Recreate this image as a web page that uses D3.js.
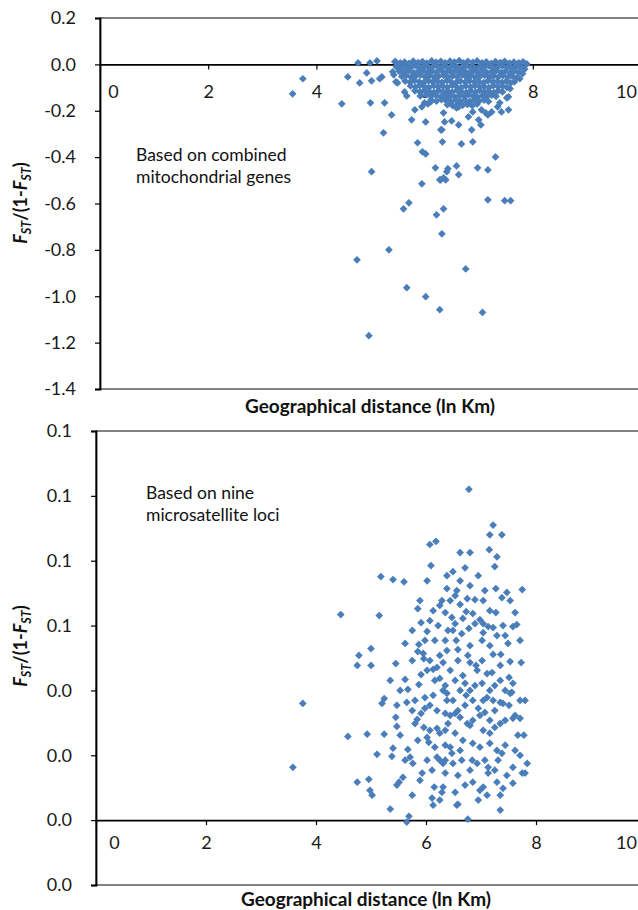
<!DOCTYPE html>
<html>
<head>
<meta charset="utf-8">
<script src="https://cdn.jsdelivr.net/npm/d3@7.9.0/dist/d3.min.js"></script>
<style>
  body { margin: 0; background: #fff; }
  svg { display: block; font-family: Lato, "Open Sans", sans-serif; }
</style>
</head>
<body>
<svg id="chart" width="638" height="910"></svg>
<script>
// ---- data: [ln distance (km), Fst/(1-Fst)] ----
const mitoPoints = [
  // scattered
  [3.56,-0.127],[3.75,-0.062],[4.47,-0.170],[4.58,-0.054],[4.77,0.006],[4.80,-0.080],[4.93,-0.037],
  [4.99,0.006],[5.02,-0.071],[5.00,-0.166],[5.02,-0.463],[5.12,0.015],[5.17,-0.062],[5.21,-0.054],
  [5.26,-0.166],[5.24,-0.295],[5.39,-0.218],[5.45,0.011],[5.47,-0.075],[5.48,-0.011],[5.54,-0.024],
  [5.41,-0.032],[5.43,-0.045],[5.50,-0.080],[5.63,-0.119],[5.67,-0.136],[5.82,-0.196],[5.76,-0.239],
  [5.87,-0.338],[5.96,-0.377],[6.02,-0.386],[5.95,-0.515],[6.02,-0.248],[5.95,-0.183],[6.00,-0.166],
  [6.06,-0.170],[6.11,-0.162],[6.20,-0.446],[6.28,-0.498],[6.35,-0.489],[6.41,-0.463],[6.43,-0.450],
  [6.59,-0.438],[6.63,-0.476],[6.33,-0.334],[6.32,-0.282],[6.37,-0.248],[6.35,-0.209],[6.50,-0.244],
  [6.63,-0.261],[6.68,-0.343],[6.87,-0.282],[6.89,-0.334],[6.81,-0.226],[7.00,-0.239],[7.04,-0.261],
  [6.98,-0.446],[7.17,-0.455],[7.31,-0.399],[6.41,-0.144],[6.59,-0.188],[6.63,-0.183],[6.89,-0.205],
  [7.05,-0.196],[7.17,-0.218],[7.24,-0.205],[7.42,-0.205],[7.55,-0.196],[7.39,-0.166],[7.52,-0.144],
  [7.55,-0.140],[6.46,-0.166],[7.13,-0.209],[7.35,-0.183],[6.30,-0.282],
  [5.71,-0.597],[5.61,-0.623],[6.35,-0.623],[6.22,-0.649],[6.32,-0.731],[7.17,-0.584],[7.48,-0.588],
  [7.59,-0.588],[5.34,-0.800],[4.75,-0.843],[6.76,-0.882],[5.67,-0.963],[6.02,-1.002],[6.28,-1.058],
  [7.07,-1.070],[4.97,-1.170],[6.30,-0.498],[6.39,-0.498],
  // dense cluster near zero
  [5.46,0.012],[5.55,0.006],[5.63,0.010],[5.71,0.004],[5.79,0.014],[5.88,0.008],[5.96,0.012],[6.04,0.005],
  [6.13,0.015],[6.21,0.009],[6.30,0.013],[6.38,0.006],[6.47,0.014],[6.55,0.010],[6.64,0.016],[6.72,0.007],
  [6.80,0.013],[6.89,0.009],[6.97,0.015],[7.06,0.006],[7.14,0.011],[7.23,0.004],[7.31,0.012],[7.40,0.008],
  [7.48,0.013],[7.57,0.005],[7.65,0.010],[7.74,0.007],[7.82,0.011],[7.89,0.002],
  [5.50,-0.012],[5.59,-0.008],[5.67,-0.015],[5.76,-0.010],[5.84,-0.006],[5.92,-0.013],[6.00,-0.009],
  [6.09,-0.016],[6.17,-0.007],[6.26,-0.012],[6.34,-0.010],[6.43,-0.015],[6.51,-0.006],[6.60,-0.011],
  [6.68,-0.014],[6.77,-0.008],[6.85,-0.012],[6.93,-0.016],[7.02,-0.009],[7.10,-0.013],[7.19,-0.007],
  [7.27,-0.015],[7.36,-0.010],[7.44,-0.006],[7.53,-0.012],[7.61,-0.016],[7.70,-0.009],[7.78,-0.013],[7.85,-0.020],
  [5.53,-0.030],[5.62,-0.034],[5.71,-0.028],[5.80,-0.036],[5.88,-0.031],[5.97,-0.027],[6.05,-0.035],
  [6.14,-0.030],[6.22,-0.033],[6.31,-0.026],[6.39,-0.036],[6.48,-0.031],[6.56,-0.028],[6.64,-0.034],
  [6.73,-0.030],[6.81,-0.037],[6.90,-0.029],[6.98,-0.033],[7.07,-0.027],[7.15,-0.035],[7.24,-0.031],
  [7.32,-0.028],[7.41,-0.034],[7.49,-0.030],[7.58,-0.036],[7.66,-0.029],[7.74,-0.035],[7.81,-0.040],
  [5.58,-0.052],[5.66,-0.048],[5.75,-0.055],[5.84,-0.050],[5.92,-0.046],[6.01,-0.054],[6.09,-0.049],
  [6.18,-0.056],[6.26,-0.051],[6.35,-0.047],[6.43,-0.055],[6.52,-0.050],[6.60,-0.053],[6.69,-0.046],
  [6.77,-0.054],[6.86,-0.049],[6.94,-0.056],[7.03,-0.051],[7.11,-0.047],[7.20,-0.055],[7.28,-0.050],
  [7.37,-0.053],[7.45,-0.048],[7.54,-0.055],[7.62,-0.051],[7.70,-0.058],[7.76,-0.062],
  [5.64,-0.072],[5.73,-0.077],[5.81,-0.070],[5.90,-0.075],[5.98,-0.079],[6.07,-0.071],[6.15,-0.076],
  [6.24,-0.073],[6.32,-0.078],[6.41,-0.070],[6.49,-0.075],[6.58,-0.079],[6.66,-0.072],[6.75,-0.077],
  [6.83,-0.071],[6.92,-0.076],[7.00,-0.074],[7.09,-0.079],[7.17,-0.071],[7.26,-0.076],[7.34,-0.073],
  [7.43,-0.078],[7.51,-0.072],[7.59,-0.080],[7.66,-0.075],
  [5.74,-0.093],[5.83,-0.098],[5.91,-0.091],[6.00,-0.096],[6.08,-0.100],[6.17,-0.092],[6.25,-0.097],
  [6.34,-0.094],[6.42,-0.099],[6.51,-0.091],[6.59,-0.096],[6.68,-0.100],[6.76,-0.093],[6.85,-0.098],
  [6.93,-0.092],[7.02,-0.097],[7.10,-0.095],[7.19,-0.100],[7.27,-0.092],[7.36,-0.097],[7.44,-0.094],
  [7.52,-0.099],[7.58,-0.105],
  [5.82,-0.114],[5.91,-0.118],[6.00,-0.112],[6.09,-0.117],[6.17,-0.121],[6.26,-0.113],[6.34,-0.118],
  [6.43,-0.115],[6.51,-0.120],[6.60,-0.112],[6.68,-0.117],[6.77,-0.121],[6.85,-0.114],[6.94,-0.119],
  [7.02,-0.113],[7.11,-0.118],[7.19,-0.116],[7.28,-0.121],[7.36,-0.114],[7.44,-0.119],
  [5.92,-0.136],[6.03,-0.132],[6.12,-0.138],[6.21,-0.134],[6.30,-0.140],[6.39,-0.133],[6.47,-0.137],
  [6.56,-0.141],[6.64,-0.134],[6.73,-0.139],[6.81,-0.132],[6.90,-0.137],[6.98,-0.141],[7.07,-0.135],
  [7.15,-0.139],[7.24,-0.133],[7.32,-0.138],
  [6.12,-0.153],[6.22,-0.158],[6.31,-0.152],[6.40,-0.157],[6.49,-0.161],[6.58,-0.154],[6.66,-0.159],
  [6.75,-0.155],[6.84,-0.160],[6.92,-0.153],[7.01,-0.158],[7.10,-0.154],[7.18,-0.160],
  [6.42,-0.174],[6.52,-0.178],[6.61,-0.172],[6.70,-0.177],[6.79,-0.173],[6.88,-0.178],[6.97,-0.171]
];

const microPoints = [
  [6.78,0.102],[7.22,0.091],[7.16,0.088],[7.38,0.088],[6.07,0.085],[6.18,0.086],[6.62,0.0825],[6.80,0.0825],
  [7.15,0.0834],[7.29,0.0812],[7.25,0.0782],[6.09,0.0785],[6.49,0.0766],[5.18,0.0751],[5.40,0.0742],
  [5.60,0.0735],[6.02,0.0738],[4.45,0.0634],[5.15,0.0631],[5.85,0.0652],[5.91,0.0609],[6.02,0.0582],
  [5.62,0.0545],[5.00,0.0529],
  [7.27,0.0714],[7.47,0.0702],[7.75,0.0711],[7.38,0.0686],[6.75,0.0683],[6.89,0.0680],[7.04,0.0677],
  [6.62,0.0665],[7.27,0.0640],[6.73,0.0643],[6.85,0.0637],[6.47,0.0625],[6.67,0.0622],[6.98,0.0618],
  [6.89,0.0606],[7.04,0.0606],[7.13,0.0597],[7.22,0.0594],[7.40,0.0600],[7.58,0.0597],[7.65,0.0603],
  [6.78,0.0591],[6.53,0.0606],[6.49,0.0585],[7.04,0.0578],[6.65,0.0575],[7.29,0.0569],[7.44,0.0569],
  [7.49,0.0545],[6.38,0.0523],[6.58,0.0526],[7.02,0.0554],[7.22,0.0511],[7.36,0.0511],[6.76,0.0508],
  [6.80,0.0486],[6.91,0.0477],[6.93,0.0462],[7.53,0.0489],[7.73,0.0486],[7.51,0.0440],[7.58,0.0422],
  [7.11,0.0452],[7.20,0.0455],[6.71,0.0422],[6.62,0.0400],[6.49,0.0369],[6.85,0.0369],[7.04,0.0369],
  [7.11,0.0378],[7.22,0.0369],[7.35,0.0363],[7.40,0.0360],[7.53,0.0391],[7.56,0.0394],[7.62,0.0323],
  [7.71,0.0314],[7.78,0.0262],[7.67,0.0262],[7.58,0.0314],[7.35,0.0298],[7.25,0.0286],[7.16,0.0268],
  [7.04,0.0277],[6.85,0.0308],[6.75,0.0298],[6.62,0.0317],[6.53,0.0329],[6.40,0.0298],[6.35,0.0277],
  [6.53,0.0268],[6.67,0.0246],[6.85,0.0237],[6.98,0.0225],[7.16,0.0237],[7.29,0.0215],[7.38,0.0206],
  [6.44,0.0225],[6.35,0.0185],[6.47,0.0206],[6.49,0.0175],[6.65,0.0185],[6.84,0.0185],[6.93,0.0175],
  [7.13,0.0163],[7.13,0.0145],[7.31,0.0185],[7.47,0.0138],[7.58,0.0163],[7.58,0.0114],[7.75,0.0145],
  [7.80,0.0145],[7.84,0.0175],[7.29,0.0117],[7.40,0.0098],[7.04,0.0102],[6.85,0.0117],[6.71,0.0108],
  [6.53,0.0086],[6.31,0.0102],[6.98,0.0092],[7.11,0.0077],[6.58,0.0049],[7.35,0.0031],[6.76,0.0003],
  [4.78,0.0508],[4.75,0.0477],[5.00,0.0477],[5.45,0.0483],[5.87,0.0542],[5.85,0.0520],[5.95,0.0514],
  [5.96,0.0498],[6.25,0.0508],[6.20,0.0471],[6.13,0.0465],[6.02,0.0462],[5.91,0.0449],[5.62,0.0434],
  [5.87,0.0418],[5.67,0.0403],[5.24,0.0375],[5.20,0.0360],[5.47,0.0354],[5.65,0.0363],[5.98,0.0378],
  [6.16,0.0431],[6.25,0.0437],[6.31,0.0400],[6.38,0.0391],[6.07,0.0354],[5.98,0.0345],[6.20,0.0338],
  [6.35,0.0329],[5.45,0.0317],[5.47,0.0289],[5.91,0.0329],[5.84,0.0311],[5.80,0.0298],[5.96,0.0286],
  [6.07,0.0277],[6.20,0.0283],[6.02,0.0255],[6.05,0.0240],[6.25,0.0268],[5.85,0.0246],[6.16,0.0225],
  [6.35,0.0231],[4.58,0.0258],[4.93,0.0265],[5.24,0.0265],[5.40,0.0222],[5.67,0.0218],[5.11,0.0203],
  [5.38,0.0197],[5.71,0.0194],[5.76,0.0175],[6.02,0.0185],[6.20,0.0194],[6.31,0.0175],[6.35,0.0145],
  [5.93,0.0145],[4.75,0.0117],[4.96,0.0126],[4.98,0.0092],[5.02,0.0077],[5.47,0.0108],[5.51,0.0117],
  [5.58,0.0132],[6.15,0.0102],[6.29,0.0086],[6.11,0.0068],[6.13,0.0046],[5.35,0.0034],[5.69,0.0012],
  [5.65,-0.0006],[3.76,0.0360],[3.58,0.0163],[6.56,0.0046],
  [6.35,0.0554],[6.40,0.0585],[6.31,0.0486],[6.44,0.0462],[6.53,0.0431],[6.38,0.0369],[6.71,0.0354],
  [6.95,0.0345],[7.07,0.0332],[7.16,0.0400],[7.35,0.0431],[6.80,0.0400],[6.58,0.0492],[7.02,0.0422],
  [7.25,0.0338],[7.44,0.0308],[7.51,0.0354],[7.71,0.0369],[6.07,0.0492],[6.16,0.0554],[6.22,0.0600],
  [6.35,0.0640],[6.44,0.0677],[6.25,0.0662],[6.56,0.0708],[6.38,0.0714],[6.13,0.0646],[5.98,0.0554],
  [5.75,0.0492],[5.80,0.0369],
  [6.29,0.0677],[6.53,0.0692],[6.80,0.0723],[6.95,0.0754],[6.71,0.0778],[7.07,0.0708],[7.53,0.0677],
  [7.62,0.0640],[6.55,0.0554],[6.80,0.0538],[7.16,0.0538],[7.35,0.0477],[7.02,0.0492],[6.67,0.0446],
  [6.89,0.0415],[7.25,0.0415],[7.44,0.0400],[6.35,0.0415],[6.13,0.0385],[6.58,0.0338],[6.80,0.0292],
  [6.98,0.0323],[7.16,0.0308],[7.44,0.0231],[7.62,0.0215],[6.62,0.0215],[6.25,0.0185],[6.11,0.0154],
  [6.58,0.0138],[6.80,0.0154],[7.25,0.0154],[6.25,0.0062],[5.75,0.0077],[5.89,0.0123],[5.62,0.0185],
  [5.53,0.0262],[5.75,0.0338],[5.53,0.0400],[5.35,0.0431],[6.07,0.0615],[5.75,0.0585],[5.89,0.0677],
  [6.38,0.0754],[6.62,0.0738],[7.16,0.0646],[7.71,0.0554],[7.80,0.0369],[7.71,0.0200],[7.35,0.0077],
  [6.95,0.0062],[7.07,0.0185],[6.44,0.0323],[6.73,0.0385]
];

const xTicks = [0, 2, 4, 6, 8, 10];
const mitoYTicks = [0.2, 0, -0.2, -0.4, -0.6, -0.8, -1.0, -1.2, -1.4];
const microYTicks = [-0.02, 0, 0.02, 0.04, 0.06, 0.08, 0.10, 0.12];

const xTitle = 'Geographical distance (ln Km)';
const mitoNote = ['Based on combined', 'mitochondrial genes'];
const microNote = ['Based on nine', 'microsatellite loci'];

const markerColor = '#4A7EBB';
const fmt = v => (Math.round(v * 10) / 10).toFixed(1);

const svg = d3.select('#chart');

function yTitle(g, cx, cy) {
  const t = g.append('text')
    .attr('transform', `translate(${cx},${cy}) rotate(-90)`)
    .attr('text-anchor', 'middle')
    .attr('font-weight', 'bold')
    .attr('font-size', 18)
    .attr('fill', '#111');
  t.append('tspan').attr('font-style', 'italic').text('F');
  t.append('tspan').attr('font-style', 'italic').attr('font-size', 12.5).attr('dy', 4).text('ST');
  t.append('tspan').attr('dy', -4).text('/(1-');
  t.append('tspan').attr('font-style', 'italic').text('F');
  t.append('tspan').attr('font-style', 'italic').attr('font-size', 12.5).attr('dy', 4).text('ST');
  t.append('tspan').attr('dy', -4).text(')');
}

function drawPanel(cfg) {
  const g = svg.append('g');
  const x = d3.scaleLinear().domain([0, 10]).range([cfg.left, cfg.right]);
  const y = d3.scaleLinear().domain(cfg.yDomain).range([cfg.bottom, cfg.top]);

  // plot area border
  g.append('rect')
    .attr('x', cfg.left).attr('y', cfg.top)
    .attr('width', cfg.right - cfg.left).attr('height', cfg.bottom - cfg.top)
    .attr('fill', 'none').attr('stroke', '#404040').attr('stroke-width', 1.3);

  // y axis
  const ya = g.append('g')
    .attr('transform', `translate(${cfg.left},0)`)
    .call(d3.axisLeft(y).tickValues(cfg.yTicks).tickSize(5).tickPadding(cfg.yPad).tickFormat(fmt));
  ya.select('.domain').attr('stroke', '#000').attr('stroke-width', 1.8);
  ya.selectAll('.tick line').attr('stroke', '#000').attr('stroke-width', 1.2);
  ya.selectAll('.tick text')
    .attr('font-family', 'Lato, sans-serif').attr('font-size', 18).attr('fill', '#1a1a1a');

  // x axis, crossing at y = 0
  const xa = g.append('g')
    .attr('transform', `translate(0,${y(0)})`)
    .call(d3.axisBottom(x).tickValues(xTicks).tickSize(5).tickSizeOuter(0));
  xa.select('.domain').attr('stroke', '#000').attr('stroke-width', 1.8);
  xa.selectAll('.tick line').attr('stroke', '#000').attr('stroke-width', 1.2);
  xa.selectAll('.tick text')
    .attr('font-family', 'Lato, sans-serif').attr('font-size', 18).attr('fill', '#1a1a1a')
    .attr('dy', null).attr('y', cfg.xLabelBase)
    .attr('x', d => Math.max(cfg.left + cfg.xLabelMin, Math.min(cfg.xLabelMax, x(d))) - x(d));

  // points
  g.append('g').selectAll('path')
    .data(cfg.points)
    .join('path')
    .attr('d', d3.symbol(d3.symbolSquare, 30))
    .attr('transform', d => `translate(${x(d[0])},${y(d[1])}) rotate(45)`)
    .attr('fill', markerColor);

  // note
  const note = g.append('text')
    .attr('font-size', 17.5).attr('fill', '#111');
  cfg.note.forEach((line, i) => {
    note.append('tspan').attr('x', cfg.noteX).attr('y', cfg.noteY + i * 22).text(line);
  });

  yTitle(g, cfg.yTitleX, cfg.yTitleY);

  g.append('text')
    .attr('x', cfg.xTitleX).attr('y', cfg.xTitleY)
    .attr('text-anchor', 'middle')
    .attr('font-weight', 'bold').attr('font-size', 19).attr('fill', '#111')
    .text(xTitle);
}

drawPanel({
  points: mitoPoints, yDomain: [-1.4, 0.2], yTicks: mitoYTicks,
  left: 100, right: 641, top: 18, bottom: 389, yPad: 19,
  xLabelBase: 33.5, xLabelMin: 13, xLabelMax: 626,
  note: mitoNote, noteX: 136, noteY: 161,
  yTitleX: 27, yTitleY: 203, xTitleX: 370, xTitleY: 413
});

drawPanel({
  points: microPoints, yDomain: [-0.02, 0.12], yTicks: microYTicks,
  left: 96, right: 646, top: 431, bottom: 885, yPad: 19,
  xLabelBase: 29, xLabelMin: 18, xLabelMax: 626,
  note: microNote, noteX: 146, noteY: 499,
  yTitleX: 27, yTitleY: 646, xTitleX: 366, xTitleY: 906
});
</script>
</body>
</html>
